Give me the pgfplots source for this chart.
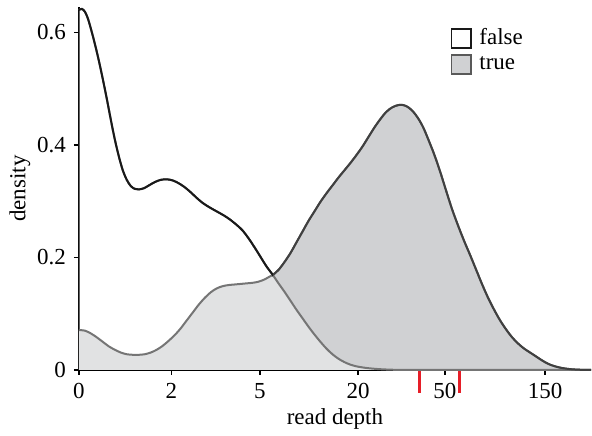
\documentclass[border=0pt]{standalone}
\usepackage{fontspec}
\setmainfont{Liberation Serif}
\usepackage{pgfplots}
\pgfplotsset{compat=1.18}

\definecolor{truefill}{RGB}{208,209,211}
\definecolor{trueline}{RGB}{64,64,64}
\definecolor{undergray}{RGB}{117,117,117}
\definecolor{marker}{RGB}{230,30,40}

% x is in plot units (1 unit = 1 px of the reference), y is density
\pgfplotstableread{
u v
0 0.640
3 0.642
6 0.637
9 0.625
12 0.607
16 0.580
20 0.550
24 0.517
28 0.482
32 0.445
36 0.410
40 0.380
44 0.355
48 0.338
52 0.327
56 0.322
60 0.321
65 0.323
70 0.328
76 0.334
82 0.338
88 0.339
94 0.337
100 0.332
106 0.325
112 0.316
118 0.306
124 0.297
131 0.289
138 0.282
145 0.275
151 0.268
158 0.258
164 0.248
170 0.234
176 0.218
182 0.201
188 0.184
194.3 0.169
200 0.154
206 0.139
212 0.123
218 0.107
224 0.092
230 0.077
236 0.063
242 0.050
248 0.038
254 0.028
260 0.020
266 0.014
272 0.0095
278 0.0065
285 0.0043
292 0.0028
300 0.0016
310 0.0007
320 0.0002
335 0
513 0
}\falsetab
\pgfplotstableread{
u v
0 0.071
6 0.070
12 0.065
18 0.058
24 0.050
30 0.042
36 0.036
42 0.031
48 0.028
54 0.027
60 0.027
66 0.028
72 0.031
78 0.036
84 0.043
90 0.052
96 0.062
102 0.074
108 0.088
114 0.102
120 0.116
126 0.128
132 0.138
138 0.145
144 0.149
150 0.151
156 0.152
162 0.153
168 0.154
174 0.155
180 0.157
186 0.161
191 0.166
194.3 0.169
200 0.178
206 0.192
212 0.208
218 0.227
224 0.246
230 0.265
236 0.282
242 0.299
248 0.314
254 0.328
260 0.342
266 0.355
272 0.368
278 0.382
284 0.397
290 0.414
296 0.431
302 0.446
308 0.459
314 0.467
320 0.471
325 0.471
330 0.467
335 0.459
340 0.447
345 0.431
350 0.410
356 0.383
362 0.352
368 0.318
374 0.285
380 0.256
386 0.229
392 0.204
398 0.178
404 0.152
410 0.128
416 0.107
422 0.088
428 0.072
434 0.058
440 0.047
446 0.038
452 0.031
458 0.024
464 0.017
470 0.011
476 0.0070
482 0.0042
488 0.0024
494 0.0012
502 0.0004
513 0
}\truetab

\begin{document}
\fontsize{11.5}{13}\selectfont
\begin{tikzpicture}
\begin{axis}[
    scale only axis,
    width=256.5pt, height=181.7pt,
    xmin=0, xmax=513, ymin=0, ymax=0.645,
    enlargelimits=false,
    clip=false,
    axis lines=left,
    axis line style={-, line width=1.2pt, black},
    tick align=outside,
    major tick length=2.5pt,
    tick style={black, line width=0.8pt},
    xtick={0,92.7,181.2,279.8,366.5,467},
    xticklabels={0,2,5,20,50,150},
    ytick={0,0.2,0.4,0.6},
    extra x ticks={341.2,381.6},
    extra x tick labels={},
    extra x tick style={major tick length=11.5pt, tick style={marker, line width=1.5pt}},
    /pgf/number format/assume math mode=true,
    ticklabel style={font=\fontsize{11.5}{13}\selectfont},
    label style={font=\fontsize{11.5}{13}\selectfont},
    xlabel={read depth},
    xlabel style={at={(axis description cs:0.5,0)}, anchor=base, yshift=-27.5pt},
    ylabel={density},
    ylabel style={yshift=-4.5pt},
    legend cell align=left,
    legend style={at={(rel axis cs:0.725,0.953)}, anchor=north west,
        draw=none, fill=none, inner sep=0pt, row sep=0pt,
        font=\fontsize{11.5}{13}\selectfont},
    legend image code/.code={\draw[#1, line width=0.9pt] (0pt,-4.8pt) rectangle (9.8pt,4.8pt);
        \path[draw=none, fill=none] (9.8pt,0pt) -- (12pt,0pt);},
]
% fills
\addplot[forget plot, draw=none, fill=truefill, smooth] table {\truetab} \closedcycle;
\addplot[forget plot, draw=none, fill=white, fill opacity=0.38, smooth] table {\falsetab} \closedcycle;
% outlines, gray where one curve lies under the other
\addplot[forget plot, undergray, line width=1pt, smooth] table {\truetab};
\addplot[forget plot, undergray, line width=1pt, smooth] table {\falsetab};
\begin{scope}
\clip (axis cs:-5,-0.01) rectangle (axis cs:194.3,0.7);
\addplot[forget plot, black!90, line width=1pt, smooth] table {\falsetab};
\end{scope}
\begin{scope}
\clip (axis cs:194.3,-0.01) rectangle (axis cs:520,0.7);
\addplot[forget plot, trueline, line width=1pt, smooth] table {\truetab};
\end{scope}

\addlegendimage{draw=black!90, fill=white}
\addlegendentry{false}
\addlegendimage{draw=black!65, fill=truefill}
\addlegendentry{true}

\coordinate (bl) at (rel axis cs:0,0);
\coordinate (tr) at (rel axis cs:1,1);
\end{axis}
\pgfresetboundingbox
\path ([xshift=-39.5pt,yshift=-32.65pt]bl) rectangle ([xshift=0.5pt,yshift=3.6pt]tr);
\end{tikzpicture}
\end{document}
